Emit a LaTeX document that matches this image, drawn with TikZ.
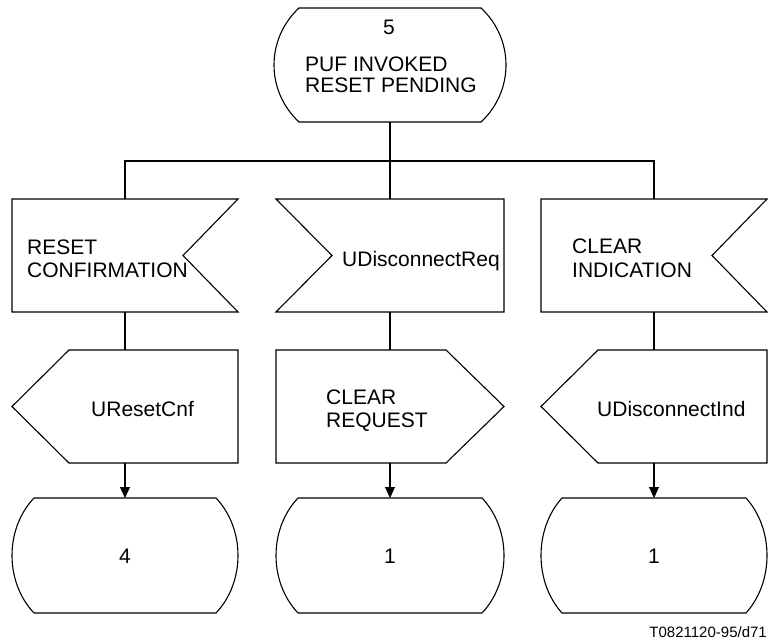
\documentclass[tikz,border=0pt]{standalone}
\usepackage{fontspec}
\setmainfont{Liberation Sans}
\usetikzlibrary{calc,arrows.meta}

\tikzset{
  frame/.style={draw=none, inner sep=0pt, outer sep=0pt},
  outline/.style={draw=black, line width=1.1pt, line join=miter},
  link/.style={draw=black, line width=1.1pt},
  flow/.style={link, -{Triangle[length=11pt,width=10pt]}},
  lbl/.style={inner sep=0pt, font=\fontsize{21}{24}\selectfont},
  tag/.style={inner sep=0pt, font=\fontsize{15}{18}\selectfont},
}

% SDL state symbol: flat top and bottom, bulging sides (#2 = side inset)
\newcommand\stateoutline[2]{%
  \draw[outline]
    ($(#1.north west)+(#2,0)$) -- ($(#1.north east)+(-#2,0)$)
    .. controls ($(#1.north east)+({#2/3},31)$) and ($(#1.south east)+({#2/3},-31)$)
    .. ($(#1.south east)+(-#2,0)$) -- ($(#1.south west)+(#2,0)$)
    .. controls ($(#1.south west)+({-#2/3},-31)$) and ($(#1.north west)+({-#2/3},31)$)
    .. cycle;}
% input signal, notch on the right
\newcommand\inputright[2]{%
  \draw[outline] (#1.north west) -- (#1.north east) -- ($(#1.east)+(-#2,0)$)
    -- (#1.south east) -- (#1.south west) -- cycle;}
% input signal, notch on the left
\newcommand\inputleft[2]{%
  \draw[outline] (#1.north east) -- (#1.north west) -- ($(#1.west)+(#2,0)$)
    -- (#1.south west) -- (#1.south east) -- cycle;}
% output signal, point on the left
\newcommand\outputleft[2]{%
  \draw[outline] ($(#1.north west)+(#2,0)$) -- (#1.north east) -- (#1.south east)
    -- ($(#1.south west)+(#2,0)$) -- (#1.west) -- cycle;}
% output signal, point on the right
\newcommand\outputright[2]{%
  \draw[outline] (#1.north west) -- ($(#1.north east)+(-#2,0)$) -- (#1.east)
    -- ($(#1.south east)+(-#2,0)$) -- (#1.south west) -- cycle;}

\begin{document}
\begin{tikzpicture}[x=1pt, y=-1pt]
  \useasboundingbox (0,0) rectangle (768,644);

  % frames of the symbols
  \node[frame, minimum width=232pt, minimum height=114pt] (s5) at (390,65) {};
  \node[frame, minimum width=226pt, minimum height=113pt] (in1) at (125,255.5) {};
  \node[frame, minimum width=228pt, minimum height=113pt] (in2) at (390,255.5) {};
  \node[frame, minimum width=226pt, minimum height=113pt] (in3) at (654,255.5) {};
  \node[frame, minimum width=226pt, minimum height=113pt] (out1) at (125,406.5) {};
  \node[frame, minimum width=228pt, minimum height=113pt] (out2) at (390,406.5) {};
  \node[frame, minimum width=226pt, minimum height=113pt] (out3) at (654,406.5) {};
  \node[frame, minimum width=226pt, minimum height=115pt] (st4) at (125,555.5) {};
  \node[frame, minimum width=228pt, minimum height=115pt] (st1a) at (390,555.5) {};
  \node[frame, minimum width=226pt, minimum height=115pt] (st1b) at (654,555.5) {};

  % outlines
  \stateoutline{s5}{25}
  \inputright{in1}{55}
  \inputleft{in2}{56}
  \inputright{in3}{55}
  \outputleft{out1}{57}
  \outputright{out2}{58}
  \outputleft{out3}{57}
  \stateoutline{st4}{22}
  \stateoutline{st1a}{22}
  \stateoutline{st1b}{21}

  % connectors
  \coordinate (bus) at (0,161);
  \draw[link] (s5.south) -- (in2.north);
  \draw[link] (in1.north) -- (in1.north |- bus) -- (in3.north |- bus) -- (in3.north);
  \draw[link] (in1.south) -- (out1.north);
  \draw[link] (in2.south) -- (out2.north);
  \draw[link] (in3.south) -- (out3.north);
  \draw[flow] (out1.south) -- (st4.north);
  \draw[flow] (out2.south) -- (st1a.north);
  \draw[flow] (out3.south) -- (st1b.north);

  % texts
  \node[lbl, anchor=base] (t5) at (389,35) {5};
  \node[lbl, anchor=base west] (t5a) at (305,72) {PUF INVOKED};
  \node[lbl, anchor=base west] (t5b) at (305,93) {RESET PENDING};
  \node[lbl, anchor=base west] (tin1a) at (27,255) {RESET};
  \node[lbl, anchor=base west] (tin1b) at (27,277) {CONFIRMATION};
  \node[lbl, anchor=base west] (tin2) at (342,266) {UDisconnectReq};
  \node[lbl, anchor=base west] (tin3a) at (572,254) {CLEAR};
  \node[lbl, anchor=base west] (tin3b) at (572,277) {INDICATION};
  \node[lbl, anchor=base west] (tout1) at (91,416) {UResetCnf};
  \node[lbl, anchor=base west] (tout2a) at (326,404) {CLEAR};
  \node[lbl, anchor=base west] (tout2b) at (326,427) {REQUEST};
  \node[lbl, anchor=base west] (tout3) at (597,416) {UDisconnectInd};
  \node[lbl, anchor=base] (tst4) at (125,563) {4};
  \node[lbl, anchor=base] (tst1a) at (390,563) {1};
  \node[lbl, anchor=base] (tst1b) at (654,563) {1};
  \node[tag, anchor=base east] (ref) at (767,637) {T0821120-95/d71};
\end{tikzpicture}
\end{document}
